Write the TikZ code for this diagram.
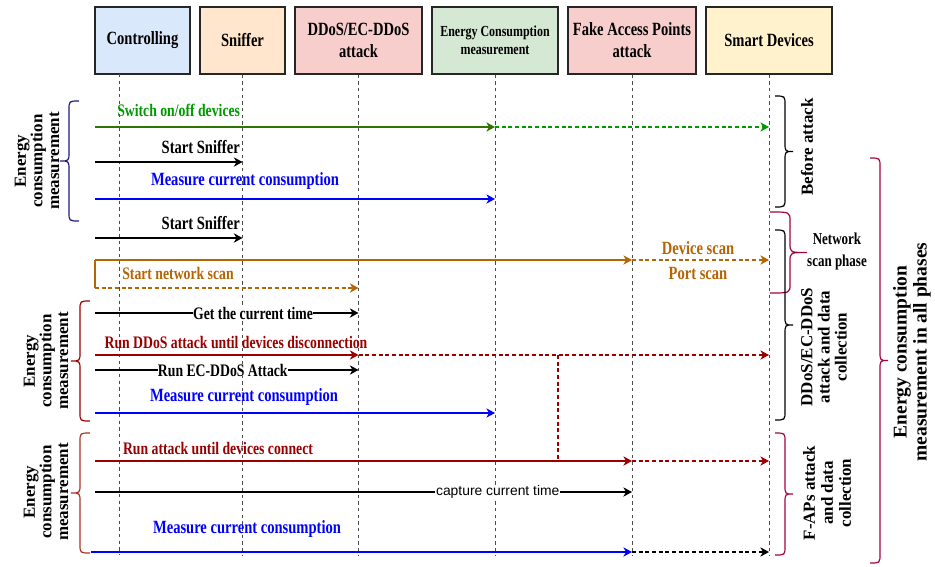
\documentclass[tikz,border=0pt]{standalone}
\usepackage{fontspec}
\setmainfont{Liberation Serif}
\newfontfamily\hfont[FakeStretch=0.78]{Liberation Serif}
\newfontfamily\sansf{Liberation Sans}
\usetikzlibrary{arrows.meta}
\definecolor{bxblue}{HTML}{DAE8FC}
\definecolor{bxorange}{HTML}{FFE6CC}
\definecolor{bxred}{HTML}{F8CECC}
\definecolor{bxgreen}{HTML}{D5E8D4}
\definecolor{bxyellow}{HTML}{FFF2CC}
\definecolor{cgreenline}{HTML}{2D7600}
\definecolor{cgreen}{HTML}{009900}
\definecolor{cblue}{HTML}{0000FF}
\definecolor{cbrown}{HTML}{B46504}
\definecolor{cred}{HTML}{990000}
\definecolor{cmag}{HTML}{A50040}
\definecolor{cnavy}{HTML}{1A1A80}
\definecolor{cred2}{HTML}{A93226}
\newcommand\cbrace[6]{%
  \pgfmathsetmacro\cbym{(#5+#6)/2}%
  \draw[brc,#1] (#2,#5) .. controls (#3,#5) .. (#3,#5+9) -- (#3,\cbym-9)
    .. controls (#3,\cbym) .. (#4,\cbym) .. controls (#3,\cbym) .. (#3,\cbym+9)
    -- (#3,#6-9) .. controls (#3,#6) .. (#2,#6);
}
\begin{document}
\begin{tikzpicture}[x=0.75pt,y=-0.75pt,
  >={Stealth[length=6.5pt,width=7pt,inset=2pt]},
  box/.style={draw=black!85,line width=0.8pt,minimum height=50.25pt,inner sep=0pt,align=center,font=\hfont\bfseries\fontsize{14}{16.5}\selectfont},
  lifeline/.style={draw=black!70,line width=0.7pt,dash pattern=on 2.5pt off 2.5pt},
  msg/.style={line width=0.9pt,->},
  dmsg/.style={line width=0.9pt,->,dash pattern=on 3pt off 2pt},
  lbl/.style={inner sep=0pt,font=\hfont\bfseries\fontsize{13.2}{14}\selectfont},
  lblb/.style={inner sep=0pt,font=\hfont\bfseries\fontsize{14}{15}\selectfont},
  onl/.style={fill=white,inner sep=0.6pt,text=black},
  rlbl/.style={rotate=90,align=center,inner sep=0pt,font=\bfseries\fontsize{12.7}{12.5}\selectfont},
  brc/.style={line width=0.9pt},
]
\useasboundingbox (0,0) rectangle (935,567);

% header boxes
\node[box,fill=bxblue,minimum width=71.25pt] (ctrl) at (142.5,40.5) {Controlling};
\node[box,fill=bxorange,minimum width=63.75pt] (snf) at (242.5,40.5) {Sniffer};
\node[box,fill=bxred,minimum width=95.25pt] (dd) at (358.5,40.5) {DDoS/EC-DDoS\\attack};
\node[box,fill=bxgreen,minimum width=94.5pt,font=\hfont\bfseries\fontsize{11.5}{13.5}\selectfont] (ecm) at (495,40.5) {Energy Consumption\\measurement};
\node[box,fill=bxred,minimum width=96pt] (fap) at (632,40.5) {Fake Access Points\\attack};
\node[box,fill=bxyellow,minimum width=94.5pt] (sd) at (769,40.5) {Smart Devices};

% lifelines
\coordinate (cL) at (119,74);
\coordinate (bot) at (0,555);
\draw[lifeline] (cL) -- (cL |- bot);
\draw[lifeline] (snf.south) -- (snf.south |- bot);
\draw[lifeline] (dd.south) -- (dd.south |- bot);
\draw[lifeline] (ecm.south) -- (ecm.south |- bot);
\draw[lifeline] (fap.south) -- (fap.south |- bot);
\draw[lifeline] (sd.south) -- (sd.south |- bot);

% message start points
\coordinate (m1) at (95,127);
\coordinate (m2) at (95,162);
\coordinate (m3) at (95,199);
\coordinate (m4) at (95,238);
\coordinate (m5a) at (95,260);
\coordinate (m5b) at (95,288);
\coordinate (m6) at (95,313);
\coordinate (m7) at (95,355);
\coordinate (m8) at (95,370);
\coordinate (m9) at (95,413);
\coordinate (m10) at (95,461);
\coordinate (m11) at (95,492);
\coordinate (m12) at (91,552);
\coordinate (rv) at (558,355);

% messages
\draw[msg,cgreenline] (m1) -- (m1 -| ecm.south);
\draw[dmsg,cgreen] (m1 -| ecm.south) -- (m1 -| sd.south);
\draw[msg,black] (m2) -- (m2 -| snf.south);
\draw[msg,cblue] (m3) -- (m3 -| ecm.south);
\draw[msg,black] (m4) -- (m4 -| snf.south);
\draw[line width=0.9pt,cbrown] (m5b) -- (m5a);
\draw[msg,cbrown] (m5a) -- (m5a -| fap.south);
\draw[dmsg,cbrown] (m5a -| fap.south) -- (m5a -| sd.south);
\draw[dmsg,cbrown] (m5b) -- (m5b -| dd.south);
\draw[msg,black] (m6) -- node[onl,pos=0.6,lbl,fill=white] {Get the current time} (m6 -| dd.south);
\draw[msg,cred] (m7) -- (m7 -| dd.south);
\draw[dmsg,cred] (m7 -| dd.south) -- (m7 -| sd.south);
\draw[line width=0.9pt,cred,dash pattern=on 3pt off 2pt] (rv) -- (rv |- m10);
\draw[msg,black] (m8) -- node[onl,pos=0.485,lbl,fill=white] {Run EC-DDoS Attack} (m8 -| dd.south);
\draw[msg,cblue] (m9) -- (m9 -| ecm.south);
\draw[msg,cred] (m10) -- (m10 -| fap.south);
\draw[dmsg,cred] (m10 -| fap.south) -- (m10 -| sd.south);
\draw[msg,black] (m11) -- node[onl,pos=0.75,inner sep=0.6pt,font=\sansf\fontsize{10.4}{12}\selectfont] {capture current time} (m11 -| fap.south);
\draw[msg,cblue] (m12) -- (m12 -| fap.south);
\draw[dmsg,black] (m12 -| fap.south) -- (m12 -| sd.south);

% labels
\node[lbl,text=cgreen,anchor=west] (t1) at (117,110) {Switch on/off devices};
\node[lblb,anchor=east] (t2) at (240,147) {Start Sniffer};
\node[lblb,text=cblue] (t3) at (245,181) {Measure current consumption};
\node[lblb,anchor=east] (t4) at (240,223) {Start Sniffer};
\node[lbl,text=cbrown] (t5) at (178,273) {Start network scan};
\node[lblb,text=cbrown] (t6) at (698,248) {Device scan};
\node[lblb,text=cbrown] (t7) at (698,273) {Port scan};
\node[lbl,text=cred] (t9) at (236,342) {Run DDoS attack until devices disconnection};
\node[lblb,text=cblue] (t11) at (244,397) {Measure current consumption};
\node[lbl,text=cred] (t12) at (218,448) {Run attack until devices connect};
\node[lblb,text=cblue] (t14) at (247,529) {Measure current consumption};

% left braces
\cbrace{cnavy}{79}{69}{60}{101}{221}
\cbrace{cred}{90}{80}{71}{301}{421}
\cbrace{cred2}{90}{80}{71}{433}{553}
\node[rlbl] (g1) at (37,161) {Energy\\consumption\\measurement};
\node[rlbl] (g2) at (46,361) {Energy\\consumption\\measurement};
\node[rlbl] (g3) at (46,492) {Energy\\consumption\\measurement};

% right braces
\cbrace{black}{775}{785}{793}{96}{207}
\cbrace{cmag}{770}{790}{807}{212}{293}
\cbrace{black}{775}{785}{793}{230}{420}
\cbrace{cmag}{775}{785}{793}{433}{555}
\cbrace{cmag}{870}{880}{888}{158}{563}
\node[rlbl] (r1) at (807,147) {Before attack};
\node[inner sep=0pt,align=center,font=\hfont\bfseries\fontsize{12.5}{16.5}\selectfont] (r2) at (837,251) {Network\\scan phase};
\node[rlbl,font=\bfseries\fontsize{12.7}{12.8}\selectfont] (r3) at (824,347) {DDoS/EC-DDoS\\attack and data\\collection};
\node[rlbl,font=\bfseries\fontsize{12.7}{13.5}\selectfont] (r4) at (827,493) {F-APs attack\\and data\\collection};
\node[rlbl,font=\bfseries\fontsize{14.6}{15}\selectfont] (r5) at (912,352) {Energy consumption\\measurement in all phases};
\end{tikzpicture}
\end{document}
